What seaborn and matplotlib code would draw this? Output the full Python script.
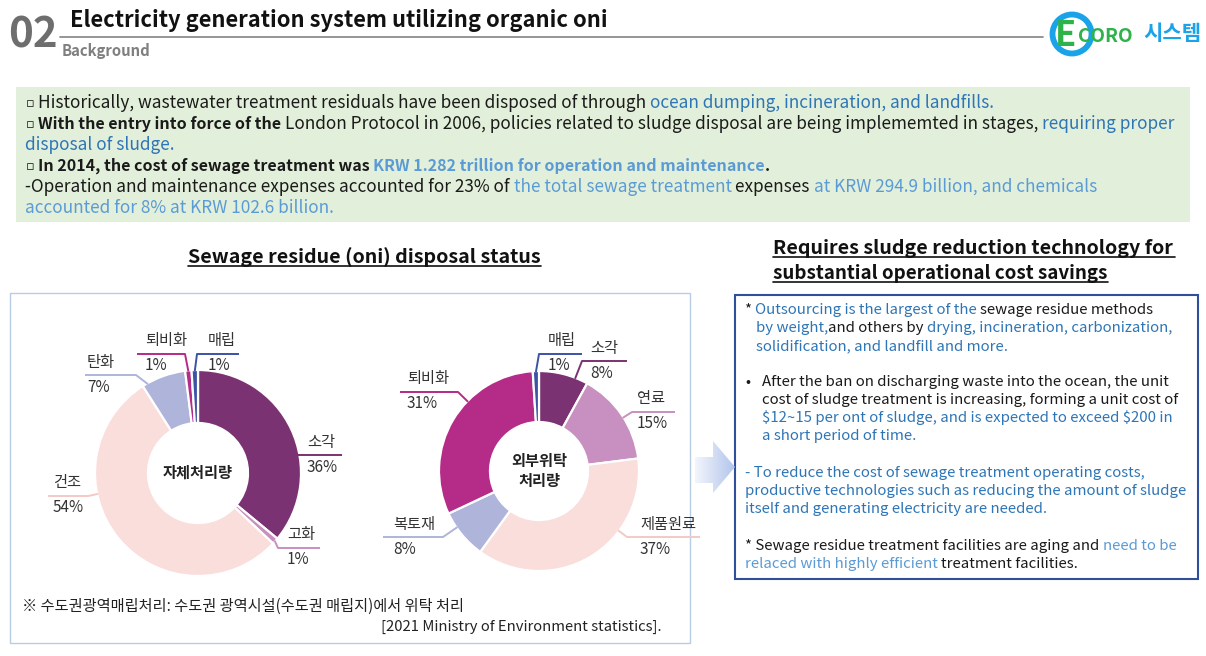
import numpy as np
import matplotlib
matplotlib.use('Agg')
import matplotlib.pyplot as plt
import seaborn as sns
from matplotlib.patches import Rectangle, Circle, Polygon
from matplotlib.colors import LinearSegmentedColormap

sns.set_theme(style='white')
FAM = ['Noto Sans CJK KR', 'DejaVu Sans']
plt.rcParams['font.family'] = FAM

# ---------------- data ----------------
self_labels = ['소각', '고화', '건조', '탄화', '퇴비화', '매립']
self_values = [36, 1, 54, 7, 1, 1]
out_labels = ['소각', '연료', '제품원료', '복토재', '퇴비화', '매립']
out_values = [8, 15, 37, 8, 31, 1]
self_title = '자체처리량'
out_title = '외부위탁\n처리량'

# ---------------- styles ----------------
palette = {'소각': '#7B3272', '고화': '#C890C0', '연료': '#C890C0',
           '건조': '#F9DEDC', '제품원료': '#F9DEDC', '탄화': '#AFB4DB',
           '복토재': '#AFB4DB', '퇴비화': '#B42B88', '매립': '#3C52A4'}
line_col = dict(palette)
line_col['건조'] = '#F3C9C5'
line_col['제품원료'] = '#F3C9C5'
BLK = '#1a1a1a'
BLUE = '#2E75B6'
LBLUE = '#5B9BD5'

fig = plt.figure(figsize=(12.06, 6.56), dpi=100)
ax = fig.add_axes([0, 0, 1, 1])
ax.set_xlim(0, 1206)
ax.set_ylim(656, 0)
ax.axis('off')
REND = fig.canvas.get_renderer()


def tw(s, size, weight='normal', family=None):
    t = ax.text(0, 0, s, fontsize=size, fontweight=weight, parse_math=False,
                family=family or FAM)
    w = t.get_window_extent(REND).width
    t.remove()
    return w


def put(x, y, s, size, color=BLK, weight='normal', ha='left', va='baseline', family=None, **kw):
    return ax.text(x, y, s, fontsize=size, color=color, fontweight=weight,
                   ha=ha, va=va, parse_math=False, family=family or FAM, **kw)


def fit(s, width, weight='normal', base=10):
    return base * width / tw(s, base, weight)


def rich(x, y, pieces, size, bold_scale=1.0):
    for p in pieces:
        s, c, wgt = p[:3]
        if s == 'BULLET':
            put(x + 1, y - 1, '▫', size * 0.75, c, family='DejaVu Sans')
            x += 13
            continue
        sz = size * (bold_scale if wgt == 'bold' else 1.0)
        put(x, y, s, sz, c, wgt)
        core = s.rstrip(' ')
        n = len(s) - len(core)
        sp = tw('a a', sz, wgt) - tw('aa', sz, wgt)
        x += tw(core, sz, wgt) + n * sp


# ---------------- header ----------------
put(8, 48, '02', fit('02', 50, 'bold'), color='#6E6E6E', weight='bold')
ts = fit('Electricity generation system utilizing organic oni', 538, 'bold')
put(70, 27, 'Electricity generation system utilizing organic oni', ts, weight='bold', color='#111111')
ax.plot([60, 1043], [37, 37], color='#8C8C8C', lw=1.3)
put(62, 56, 'Background', fit('Background', 89, 'bold'), color='#7F7F7F', weight='bold')

# logo
ax.add_patch(Circle((1072, 34), 19.5, fill=False, lw=4.2, color='#1AA3E8'))
put(1065, 46, 'E', 25, color='#2DB34A', weight='bold', ha='center')
put(1078, 42, 'CORO', fit('CORO', 55, 'bold'), color='#2DB34A', weight='bold')
put(1143, 40, '시스템', fit('시스템', 58, 'bold'), color='#1AA3E8', weight='bold')

# ---------------- green box ----------------
ax.add_patch(Rectangle((16, 87), 1174, 135, facecolor='#E2EFDA', edgecolor='none'))
BUL = ('BULLET', BLK, 'normal')
l1 = [BUL, ('Historically, wastewater treatment residuals have been disposed of through ', BLK, 'normal'),
      ('ocean dumping, incineration, and landfills.', BLUE, 'normal')]
gs = fit(''.join(p[0] for p in l1[1:]), 954)
bscale = 0.93
lines = [
    (103, l1),
    (124, [BUL, ('With the entry into force of the ', BLK, 'bold'),
           ('London Protocol in 2006, policies related to sludge disposal are being implememted in stages, ', BLK, 'normal'),
           ('requiring proper', BLUE, 'normal')]),
    (145, [('disposal of sludge.', BLUE, 'normal')]),
    (166, [BUL, ('In 2014, the cost of sewage treatment was ', BLK, 'bold'),
           ('KRW 1.282 trillion for operation and maintenance', LBLUE, 'bold'), ('.', BLK, 'bold')]),
    (187, [('-Operation and maintenance expenses accounted for 23% of ', BLK, 'normal'),
           ('the total sewage treatment ', LBLUE, 'normal'), ('expenses ', BLK, 'normal'),
           ('at KRW 294.9 billion, and chemicals', LBLUE, 'normal')]),
    (208, [('accounted for 8% at KRW 102.6 billion.', LBLUE, 'normal')]),
]
for y, pcs in lines:
    rich(25, y + 5, pcs, gs, bscale)

# ---------------- headings ----------------
def heading(x, y, s, width):
    size = fit(s, width, 'bold')
    put(x, y, s, size, weight='bold', color='#111111')
    ax.plot([x, x + width], [y + 3, y + 3], color='#111111', lw=1.2)

heading(188, 263, 'Sewage residue (oni) disposal status', 353)
heading(773, 254, 'Requires sludge reduction technology for', 402)
heading(773, 279, 'substantial operational cost savings', 335)

# ---------------- boxes ----------------
ax.add_patch(Rectangle((10, 293), 680, 350, facecolor='none', edgecolor='#B8CCE4', lw=1))
ax.add_patch(Rectangle((735, 295), 463, 284, facecolor='none', edgecolor='#2F4F9A', lw=1.5))

# arrow
arrow = Polygon([(695, 457), (713, 457), (713, 441), (735, 467), (713, 493), (713, 483), (695, 483)],
                closed=True, facecolor='none', edgecolor='none')
ax.add_patch(arrow)
cmap = LinearSegmentedColormap.from_list('arr', ['#F2F5FC', '#B3C5EC'])
ax.imshow(np.linspace(0, 1, 100).reshape(1, -1), extent=[695, 735, 493, 441],
          cmap=cmap, aspect='auto', clip_path=arrow, zorder=2)

# ---------------- donuts ----------------
self_layout = {'소각': (297, 455, 342, 307), '고화': (278, 548, 320, 287),
               '건조': (88, 496, 48, 53), '탄화': (136, 375, 85, 87),
               '퇴비화': (185, 354, 137, 145), '매립': (197, 354, 239, 208)}
out_layout = {'소각': (582, 361, 627, 590), '연료': (632, 412, 675, 637),
              '제품원료': (627, 537, 700, 640), '복토재': (443, 537, 383, 393),
              '퇴비화': (458, 392, 400, 407), '매립': (539, 354, 582, 548)}


def donut(values, labels, center, radius, width, layout, title):
    wedges, _ = ax.pie(values, colors=[palette[l] for l in labels], startangle=-90,
                       counterclock=True, radius=radius, center=center, frame=True,
                       wedgeprops=dict(width=width, edgecolor='white', linewidth=1.6))
    cx, cy = center
    for w, lab, v in zip(wedges, labels, values):
        ex, ey, endx, tx = layout[lab]
        t1, t2 = w.theta1, w.theta2
        mid = (t1 + t2) / 2
        a = np.degrees(np.arctan2(ey - cy, ex - cx))
        while a < mid - 180:
            a += 360
        while a >= mid + 180:
            a -= 360
        m = min(3, (t2 - t1) / 2)
        a = min(max(a, t1 + m), t2 - m)
        r = radius - 1
        axx, ayy = cx + r * np.cos(np.radians(a)), cy + r * np.sin(np.radians(a))
        ax.plot([axx, ex, endx], [ayy, ey, ey], color=line_col[lab], lw=1.4, zorder=4,
                solid_capstyle='butt')
        put(tx, ey - 13, lab, 11, color='#333333', va='center')
        put(tx, ey + 12, f'{v}%', 11, color='#333333', va='center')
    put(cx, cy, title, 11, color='#222222', weight='bold', ha='center', va='center',
        linespacing=1.35)


donut(self_values, self_labels, (198, 473), 103, 53, self_layout, self_title)
donut(out_values, out_labels, (539, 471), 100, 51, out_layout, out_title)

# footnotes
s1 = '※ 수도권광역매립처리: 수도권 광역시설(수도권 매립지)에서 위탁 처리'
put(22, 611, s1, fit(s1, 440), color='#222222')
s2 = '[2021 Ministry of Environment statistics].'
put(662, 631, s2, fit(s2, 281), color='#222222', ha='right')

# ---------------- right text box ----------------
s_ref = 'productive technologies such as reducing the amount of sludge'
rs = fit(s_ref, 444)
rlines = [
    (745, 309, [('* ', BLK, 'normal'), ('Outsourcing is the largest of the ', BLUE, 'normal'),
                ('sewage residue methods', BLK, 'normal')]),
    (756, 327, [('by weight,', BLUE, 'normal'), ('and others by ', BLK, 'normal'),
                ('drying, incineration, carbonization,', BLUE, 'normal')]),
    (756, 345, [('solidification, and landfill and more.', BLUE, 'normal')]),
    (762, 381, [('After the ban on discharging waste into the ocean, the unit', BLK, 'normal')]),
    (762, 399, [('cost of sludge treatment is increasing, forming a unit cost of', BLK, 'normal')]),
    (762, 417, [('$12~15 per ont of sludge, and is expected to exceed $200 in', BLUE, 'normal')]),
    (762, 435, [('a short period of time.', BLUE, 'normal')]),
    (745, 472, [('- To reduce the cost of sewage treatment operating costs,', BLUE, 'normal')]),
    (745, 490, [(s_ref, BLUE, 'normal')]),
    (745, 508, [('itself and generating electricity are needed.', BLUE, 'normal')]),
    (745, 545, [('* Sewage residue treatment facilities are aging and ', BLK, 'normal'),
                ('need to be', LBLUE, 'normal')]),
    (745, 563, [('relaced with highly efficient ', LBLUE, 'normal'),
                ('treatment facilities.', BLK, 'normal')]),
]
for x, y, pcs in rlines:
    rich(x, y + 5, pcs, rs)
put(745, 386, '•', rs, color=BLK)

ax.set_xlim(0, 1206)
ax.set_ylim(656, 0)
ax.set_aspect('auto')
ax.set_position([0, 0, 1, 1])
ax.axis('off')
fig.savefig('out.png', dpi=100)
